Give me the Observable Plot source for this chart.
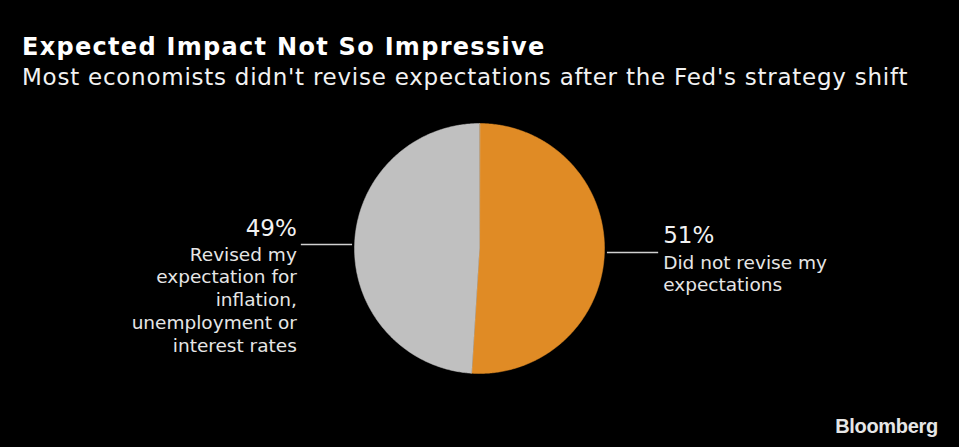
<!DOCTYPE html>
<html>
<head>
<meta charset="utf-8">
<script src="https://cdn.jsdelivr.net/npm/d3@7"></script>
<script src="https://cdn.jsdelivr.net/npm/@observablehq/plot@0.6"></script>
<style>
  html, body { margin: 0; padding: 0; background: #000; }
  body { width: 959px; height: 447px; overflow: hidden; position: relative; }
  #title { position: absolute; left: 22px; top: 35px; font: bold 24px/24px "DejaVu Sans", sans-serif; color: #fff; white-space: nowrap; letter-spacing: 1.3px; }
  #subtitle { position: absolute; left: 22px; top: 66px; font: 23px/23px "DejaVu Sans", sans-serif; color: #f2f2f2; white-space: nowrap; letter-spacing: 0.75px; }
  #chart { position: absolute; left: 0; top: 100px; }
  #logo { position: absolute; right: 21px; top: 416px; font: bold 20px/20px "Liberation Sans", Arial, sans-serif; color: #e6e6e6; letter-spacing: -0.3px; }
</style>
</head>
<body>
<div id="title">Expected Impact Not So Impressive</div>
<div id="subtitle">Most economists didn't revise expectations after the Fed's strategy shift</div>
<div id="chart"></div>
<div id="logo">Bloomberg</div>
<script>
// ---- data ----
const keys = ["notRevised", "revised"];
const shares = [51, 49];
const percentLabels = ["51%", "49%"];
const descriptions = [
  "Did not revise my\nexpectations",
  "Revised my\nexpectation for\ninflation,\nunemployment or\ninterest rates"
];
const sliceColors = ["#e08b25", "#c0c0c0"];

// ---- build geometry from data ----
const arcs = d3.pie().sort(null).value((d, i) => shares[i])(keys);
const wedgePoints = [];
arcs.forEach((a, i) => {
  const key = keys[i];
  wedgePoints.push({key, x: 0, y: 0});
  const n = Math.max(2, Math.ceil((a.endAngle - a.startAngle) / 0.01));
  for (let k = 0; k <= n; k++) {
    const t = a.startAngle + (a.endAngle - a.startAngle) * k / n;
    wedgePoints.push({key, x: Math.sin(t), y: Math.cos(t)});
  }
});
const r0 = 1.02, r1 = 1.43;
const labels = arcs.map((a, i) => {
  const m = (a.startAngle + a.endAngle) / 2;
  const right = Math.sin(m) > 0;
  const yy = Math.cos(m);
  return {
    key: keys[i],
    pct: percentLabels[i],
    desc: descriptions[i],
    right,
    x0: r0 * Math.sin(m), y0: yy,
    x1: r1 * Math.sin(m), y1: yy
  };
});
const rightLabels = labels.filter(d => d.right);
const leftLabels = labels.filter(d => !d.right);

const pctFont = "DejaVu Sans, sans-serif";
const descFont = "DejaVu Sans, sans-serif";

const plot = Plot.plot({
  width: 959,
  height: 347,
  margin: 0,
  style: {background: "transparent"},
  x: {domain: [-1, 1], range: [354, 604], axis: null},
  y: {domain: [-1, 1], range: [273, 23], axis: null},
  color: {domain: keys, range: sliceColors},
  marks: [
    Plot.line(wedgePoints, {x: "x", y: "y", z: "key", fill: "key", stroke: "key", strokeWidth: 0.5, curve: "linear-closed"}),
    Plot.link(labels, {x1: "x0", y1: "y0", x2: "x1", y2: "y1", stroke: "#d0d0d0", strokeWidth: 1.5}),
    Plot.text(rightLabels, {x: "x1", y: "y1", text: "pct", textAnchor: "start", lineAnchor: "bottom", dx: 5, dy: -9, fill: "#f2f2f2", fontSize: 23, fontFamily: pctFont}),
    Plot.text(leftLabels, {x: "x1", y: "y1", text: "pct", textAnchor: "end", lineAnchor: "bottom", dx: -4, dy: -9, fill: "#f2f2f2", fontSize: 23, fontFamily: pctFont}),
    Plot.text(rightLabels, {x: "x1", y: "y1", text: "desc", textAnchor: "start", lineAnchor: "top", dx: 5, dy: 0, fill: "#e6e6e6", fontSize: 18.5, lineHeight: 1.23, fontFamily: descFont}),
    Plot.text(leftLabels, {x: "x1", y: "y1", text: "desc", textAnchor: "end", lineAnchor: "top", dx: -4, dy: 0, fill: "#e6e6e6", fontSize: 18.5, lineHeight: 1.23, fontFamily: descFont})
  ]
});
document.getElementById("chart").appendChild(plot);
</script>
</body>
</html>
